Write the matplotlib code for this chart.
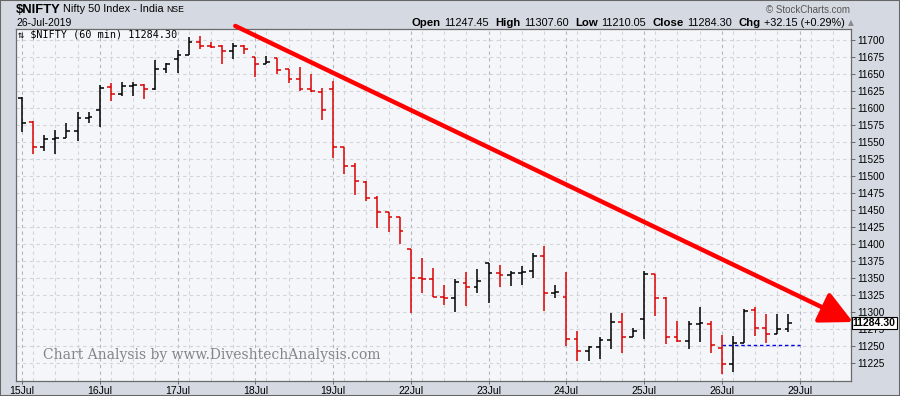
import matplotlib
matplotlib.use("Agg")
import matplotlib.pyplot as plt
from matplotlib.patches import Rectangle

# 60 min bars, 7 per session, 15 Jul .. 26 Jul 2019
day_labels = ["15Jul", "16Jul", "17Jul", "18Jul", "19Jul", "22Jul",
              "23Jul", "24Jul", "25Jul", "26Jul", "29Jul"]
bars_per_day = 7

opens = [11615.3, 11580.0, 11543.3, 11555.1, 11555.6, 11566.8, 11585.9,
         11597.2, 11630.5, 11620.2, 11632.4, 11633.4, 11627.5, 11656.9,
         11671.6, 11678.0, 11696.6, 11691.2, 11691.2, 11684.3, 11691.7,
         11674.5, 11664.7, 11673.1, 11656.9, 11642.2, 11627.5, 11624.1,
         11627.5, 11543.3, 11514.9, 11491.9, 11467.4, 11446.8, 11439.5,
         11392.5, 11350.9, 11348.4, 11323.0, 11321.5, 11342.6, 11336.7,
         11371.9, 11358.2, 11354.8, 11357.2, 11360.7, 11382.7, 11327.9,
         11322.0, 11260.8, 11242.7, 11249.5, 11259.3, 11285.5, 11263.2,
         11289.6, 11355.8, 11320.5, 11264.2, 11258.3, 11282.8, 11282.3,
         11247.45, 11223.5, 11254.4, 11302.9, 11276.4, 11267.6, 11275.4]
highs = [11616.8, 11581.5, 11560.4, 11567.8, 11578.6, 11594.7, 11594.7,
         11633.9, 11636.3, 11638.8, 11638.8, 11635.4, 11670.6, 11665.7,
         11685.3, 11704.9, 11706.4, 11697.6, 11692.7, 11695.1, 11692.7,
         11674.5, 11676.5, 11673.1, 11656.9, 11659.9, 11649.6, 11629.0,
         11640.3, 11543.3, 11519.8, 11492.9, 11471.3, 11447.8, 11440.5,
         11392.5, 11379.8, 11364.6, 11340.1, 11348.4, 11359.2, 11363.1,
         11371.9, 11370.0, 11361.2, 11368.0, 11386.6, 11397.4, 11340.1,
         11359.2, 11273.0, 11251.0, 11263.2, 11298.5, 11298.5, 11276.4,
         11360.6, 11355.8, 11322.0, 11287.7, 11287.7, 11308.2, 11287.2,
         11266.6, 11265.2, 11304.3, 11307.6, 11297.0, 11297.0, 11297.0]
lows = [11565.3, 11532.0, 11537.4, 11532.0, 11555.6, 11552.1, 11578.6,
        11572.7, 11610.9, 11617.7, 11618.2, 11613.3, 11626.5, 11651.0,
        11651.0, 11678.0, 11686.8, 11687.8, 11664.3, 11672.6, 11678.9,
        11645.2, 11664.3, 11649.6, 11636.3, 11625.1, 11624.1, 11582.0,
        11526.2, 11502.6, 11471.8, 11463.0, 11423.3, 11417.4, 11399.8,
        11299.5, 11328.8, 11322.0, 11311.2, 11300.9, 11309.7, 11327.9,
        11314.2, 11337.6, 11339.1, 11340.1, 11349.9, 11302.4, 11321.5,
        11251.0, 11228.5, 11229.0, 11231.4, 11245.6, 11239.7, 11263.2,
        11260.8, 11295.0, 11253.4, 11256.8, 11245.6, 11256.8, 11240.0,
        11210.05, 11212.8, 11254.4, 11265.7, 11255.4, 11267.6, 11271.5]
closes = [11578.6, 11543.3, 11554.1, 11555.6, 11566.8, 11584.9, 11586.4,
          11629.0, 11620.7, 11632.4, 11633.4, 11627.5, 11656.9, 11664.3,
          11678.0, 11696.6, 11691.2, 11690.2, 11684.3, 11691.2, 11686.3,
          11664.7, 11667.2, 11655.9, 11642.2, 11627.5, 11625.1, 11596.7,
          11543.3, 11514.9, 11492.9, 11467.4, 11446.8, 11439.5, 11418.9,
          11350.9, 11348.4, 11322.0, 11321.5, 11344.0, 11336.7, 11346.0,
          11358.2, 11354.8, 11357.2, 11359.7, 11382.7, 11327.9, 11329.3,
          11260.8, 11242.7, 11249.5, 11259.3, 11285.5, 11263.2, 11272.0,
          11355.8, 11320.5, 11264.2, 11258.3, 11282.8, 11284.7, 11252.15,
          11223.5, 11254.4, 11302.4, 11276.4, 11267.6, 11275.4, 11284.30]

prior_close = 11552.50      # close before the first bar
prev_day_close = 11252.15
last_close = 11284.30
price_ticks = list(range(11225, 11701, 25))

# hand drawn trend arrow, in (bar index, price)
trend_start = (19.2, 11720.6)
trend_end = (74.8, 11285.7)

header_stats = [("Open", "11247.45"), ("High", "11307.60"), ("Low", "11210.05"),
                ("Close", "11284.30"), ("Chg", "+32.15 (+0.29%)")]

plt.rcParams["font.family"] = ["Liberation Sans", "DejaVu Sans"]

BG = "#d5dae2"
fig = plt.figure(figsize=(9, 3.96), dpi=100, facecolor=BG)
ax = fig.add_axes([16 / 900, 1 - 380.7 / 396, (850.7 - 16) / 900, (380.7 - 29.3) / 396])
ax.set_facecolor("#f5f6fa")

n = len(closes)
xs = list(range(n))
prev = [prior_close] + closes[:-1]
colors = ["#dd0000" if c < p else "black" for c, p in zip(closes, prev)]

# grid: dark at session start, light inside the session
for i in range(0, 75):
    k = i % bars_per_day
    if k == 0:
        ax.axvline(i, color="#b4b6be", lw=0.8, ls=(0, (3, 3)), zorder=0)
    elif k in (1, 3, 5):
        ax.axvline(i, color="#d2d4da", lw=0.8, ls=(0, (3, 3)), zorder=0)
for p in price_ticks:
    ax.axhline(p, color="#d2d4da", lw=0.8, ls=(0, (3, 3)), zorder=0)

# OHLC bars
tick = 0.34
ax.vlines(xs, lows, highs, colors=colors, lw=1.1, zorder=3)
ax.hlines(opens, [i - tick for i in xs], xs, colors=colors, lw=1.1, zorder=3)
ax.hlines(closes, xs, [i + tick for i in xs], colors=colors, lw=1.1, zorder=3)

# previous close marker on the last session
last_day = n - bars_per_day
ax.hlines(prev_day_close, last_day, n, colors="#0000dd", lw=1.0,
          linestyles=(0, (2.5, 2)), zorder=2)

ax.set_xlim(-0.54, 74.6)
ax.set_ylim(11199.5, 11715.7)

ax.set_xticks([d * bars_per_day for d in range(len(day_labels))])
ax.set_xticklabels(day_labels)
ax.yaxis.tick_right()
ax.set_yticks(price_ticks)
ax.tick_params(axis="y", length=3, width=0.6, color="#555555", pad=1.5,
               labelsize=7.2)
ax.tick_params(axis="x", length=2, width=0.6, color="#555555", pad=2,
               labelsize=7.5)
for s in ax.spines.values():
    s.set_color("#6a6a6a")
    s.set_linewidth(0.9)

# trend arrow
ax.annotate("", xy=trend_end, xytext=trend_start, annotation_clip=False,
            arrowprops=dict(arrowstyle="-|>,head_length=1.0,head_width=0.5",
                            mutation_scale=20, color="#ff0000", lw=3.2,
                            shrinkA=0, shrinkB=0), zorder=6)

# last price box on the axis
ax.annotate(f"{last_close:.2f}", xy=(1, last_close),
            xycoords=("axes fraction", "data"), xytext=(1.5, 0),
            textcoords="offset points", ha="left", va="center",
            fontsize=7.6, fontweight="bold", annotation_clip=False,
            bbox=dict(boxstyle="square,pad=0.12", fc="white", ec="black", lw=0.8),
            zorder=7)

ax.text(0.0024, 0.976, "⇅ $NIFTY (60 min) 11284.30", transform=ax.transAxes,
        fontsize=7.3, family=["DejaVu Sans Mono", "DejaVu Sans"],
        va="baseline", ha="left", zorder=5)
ax.text(0.0327, 0.061, "Chart Analysis by www.DiveshtechAnalysis.com",
        transform=ax.transAxes, fontsize=10.0, family="DejaVu Serif",
        color="#858585", va="baseline", ha="left", zorder=5)

# header
fig.text(16 / 900, 1 - 12.7 / 396, "$NIFTY", fontsize=9.4, fontweight="bold",
         va="baseline")
fig.text(63 / 900, 1 - 12.4 / 396, "Nifty 50 Index - India", fontsize=7.8,
         va="baseline")
fig.text(166.5 / 900, 1 - 12.4 / 396, "NSE", fontsize=6.2, va="baseline")
fig.text(16 / 900, 1 - 25.7 / 396, "26-Jul-2019", fontsize=7.5, va="baseline")
fig.text(850 / 900, 1 - 13 / 396, "© StockCharts.com", fontsize=7.0,
         color="#555555", va="baseline", ha="right")

prev_txt = fig.text(412 / 900, 1 - 26 / 396, header_stats[0][0], fontsize=8.2,
                    fontweight="bold", va="baseline")
first = True
for label, value in header_stats:
    if not first:
        prev_txt = ax.annotate(label, xy=(1, 0), xycoords=prev_txt,
                               xytext=(4.5, 0), textcoords="offset points",
                               fontsize=8.2, fontweight="bold", va="bottom",
                               annotation_clip=False)
    first = False
    prev_txt = ax.annotate(value, xy=(1, 0), xycoords=prev_txt,
                           xytext=(2.5, 0), textcoords="offset points",
                           fontsize=7.8, va="bottom", annotation_clip=False)
ax.annotate("▲", xy=(1, 0), xycoords=prev_txt, xytext=(2.5, 0.5),
            textcoords="offset points", fontsize=5.5, color="#8a8a8a",
            family="DejaVu Sans", va="bottom", annotation_clip=False)

fig.patches.append(Rectangle((0, 0), 1, 1, transform=fig.transFigure,
                             fill=False, ec="#666666", lw=1.5))

fig.savefig("out.png", dpi=100, facecolor=BG)
